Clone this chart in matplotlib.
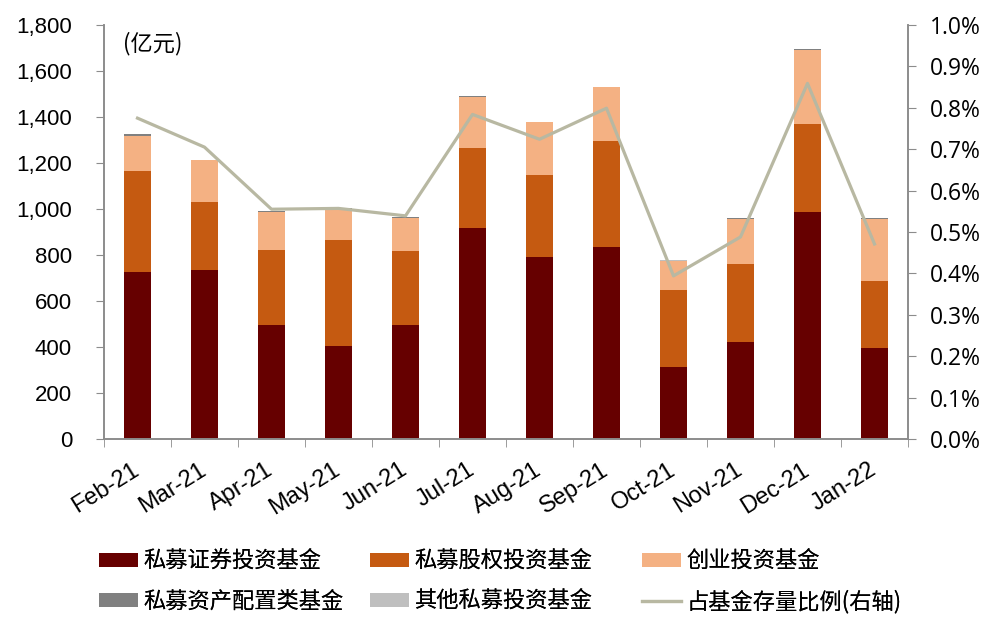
import matplotlib.pyplot as plt
import numpy as np

plt.rcParams['font.family'] = ['Liberation Sans', 'Noto Sans CJK SC']

months = ['Feb-21', 'Mar-21', 'Apr-21', 'May-21', 'Jun-21', 'Jul-21',
          'Aug-21', 'Sep-21', 'Oct-21', 'Nov-21', 'Dec-21', 'Jan-22']

# 亿元
sec = [727, 735, 497, 405, 497, 918, 792, 835, 314, 423, 987, 397]
equity = [438, 296, 326, 461, 321, 347, 356, 461, 332, 339, 383, 291]
venture = [154, 182, 165, 134, 144, 223, 230, 234, 129, 196, 322, 270]
alloc = [6, 1, 4, 3, 2, 3, 1, 2, 1, 2, 3, 2]
other = [1, 0.5, 0.5, 0.5, 0.5, 0.5, 0.5, 0.5, 0.5, 0.5, 0.5, 0.5]
ratio = [0.775, 0.705, 0.555, 0.557, 0.539, 0.784, 0.724, 0.799, 0.394, 0.488, 0.859, 0.471]

names = ['私募证券投资基金', '私募股权投资基金', '创业投资基金',
         '私募资产配置类基金', '其他私募投资基金', '占基金存量比例(右轴)']
colors = ['#660000', '#C55A11', '#F4B183', '#808080', '#BFBFBF']
line_color = '#B8B8A2'
axis_gray = '#8C8C8C'

fig = plt.figure(figsize=(9.98, 6.32), dpi=100)
ax = fig.add_axes([104/998, 1 - 439/632, 804/998, 414/632])
ax2 = ax.twinx()

x = np.arange(len(months))
bottom = np.zeros(len(months))
bars = []
for vals, c, n in zip([sec, equity, venture, alloc, other], colors, names[:5]):
    b = ax.bar(x, vals, 0.41, bottom=bottom, color=c, label=n, zorder=2)
    bars.append(b)
    bottom += np.array(vals)

ln, = ax2.plot(x, ratio, color=line_color, lw=2.3, label=names[5], zorder=3)

ax.set_xlim(-0.5, len(months) - 0.5)
ax.set_ylim(0, 1800)
ax.set_yticks(np.arange(0, 1801, 200))
ax.set_yticklabels([f'{v:,}' for v in range(0, 1801, 200)], fontsize=16)
ax2.set_ylim(0, 1.0)
ax2.set_yticks(np.arange(0, 1.01, 0.1))
ax2.set_yticklabels([f'{v:.1f}%' for v in np.arange(0, 1.01, 0.1)],
                    fontsize=16.5, family=['Open Sans'])

ax.set_xticks(x)
ax.set_xticklabels(months, rotation=32, ha='right', va='center',
                   rotation_mode='anchor', fontsize=17)
ax.set_xticks(np.arange(-0.5, len(months)), minor=True)
ax.tick_params(axis='x', which='major', length=0, pad=21)
ax.tick_params(axis='x', which='minor', length=6, color=axis_gray, direction='out')
ax.tick_params(axis='y', length=6, color=axis_gray, pad=17)
ax2.tick_params(axis='y', length=6, color=axis_gray, pad=10)

for a in (ax, ax2):
    a.spines['top'].set_visible(False)
    for s in ('left', 'right', 'bottom'):
        a.spines[s].set_color(axis_gray)
        a.spines[s].set_linewidth(1.2)

ax.text(0.024, 0.955, '(亿元)', transform=ax.transAxes, fontsize=16,
        ha='left', va='center', family=['Noto Sans CJK SC'])

# legend: three columns placed separately, filled row by row
handles = bars + [ln]
col_x = [99, 370, 642]
for k in range(3):
    leg = fig.legend([handles[k], handles[k + 3]], [names[k], names[k + 3]],
                     loc='upper left', bbox_to_anchor=(col_x[k]/998, 1 - 550/632),
                     frameon=False, borderpad=0, borderaxespad=0,
                     prop={'family': 'Noto Sans CJK SC', 'size': 16},
                     handlelength=1.76, handleheight=0.59, handletextpad=0.22,
                     labelspacing=0.75)
    fig.add_artist(leg)

fig.savefig('out.png', dpi=100)
